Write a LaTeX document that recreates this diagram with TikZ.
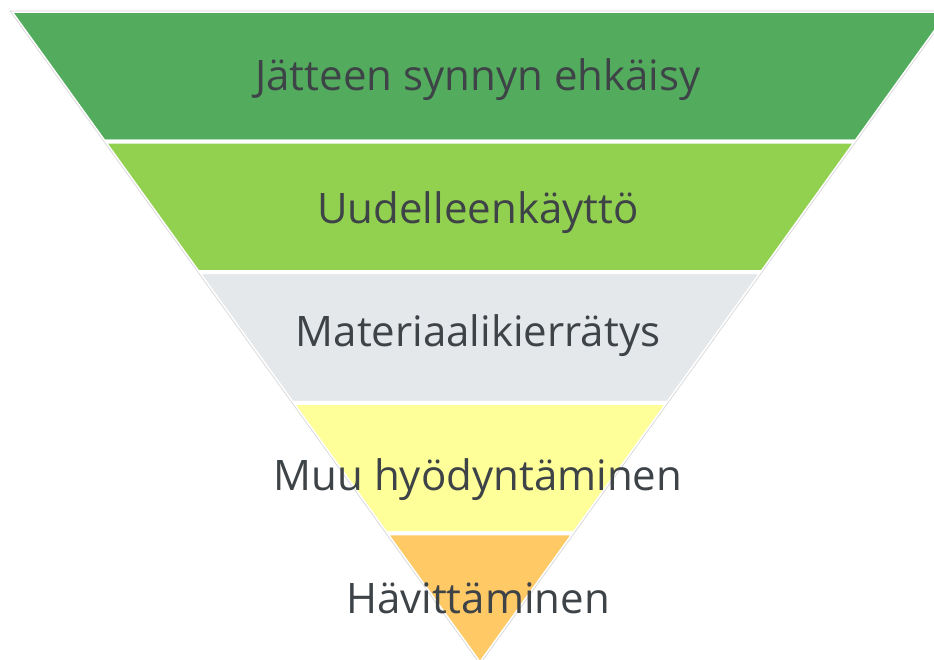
\documentclass[tikz,border=0pt]{standalone}
\usepackage{fontspec}
\setmainfont{Open Sans}
\usetikzlibrary{calc,positioning}

\definecolor{levelA}{RGB}{83,172,93}
\definecolor{levelB}{RGB}{146,208,80}
\definecolor{levelC}{RGB}{229,232,235}
\definecolor{levelD}{RGB}{255,255,153}
\definecolor{levelE}{RGB}{255,201,102}
\definecolor{labelgray}{RGB}{62,67,71}

\begin{document}
\begin{tikzpicture}[x=1pt, y=-1pt,
    band/.style={draw=white, line width=4pt, line join=miter},
    level/.style={font=\fontsize{42}{50}\selectfont, text=labelgray, inner sep=0pt}]
    \useasboundingbox (0,0) rectangle (934,660);
    % Corners of the triangle
    \coordinate (tl) at (10,11);
    \coordinate (tr) at (950,11);
    \coordinate (apex) at (480,664);
    % Bands
    \foreach \a/\b/\c in {0/0.2/levelA, 0.2/0.4/levelB, 0.4/0.6/levelC, 0.6/0.8/levelD, 0.8/1/levelE} {
        \filldraw[band, fill=\c] ($(tl)!\a!(apex)$) -- ($(tr)!\a!(apex)$) -- ($(tr)!\b!(apex)$) -- ($(tl)!\b!(apex)$) -- cycle;
    }
    % Outline
    \draw[gray!35, line width=0.6pt] (tl) -- (tr) -- (apex) -- cycle;
    % Labels
    \node[level] (prevent) at (478,80) {Jätteen synnyn ehkäisy};
    \node[level] (reuse) at (478,213) {Uudelleenkäyttö};
    \node[level] (recycle) at (478,336) {Materiaalikierrätys};
    \node[level] (recover) at (478,480) {Muu hyödyntäminen};
    \node[level] (dispose) at (478,598) {Hävittäminen};
\end{tikzpicture}
\end{document}
